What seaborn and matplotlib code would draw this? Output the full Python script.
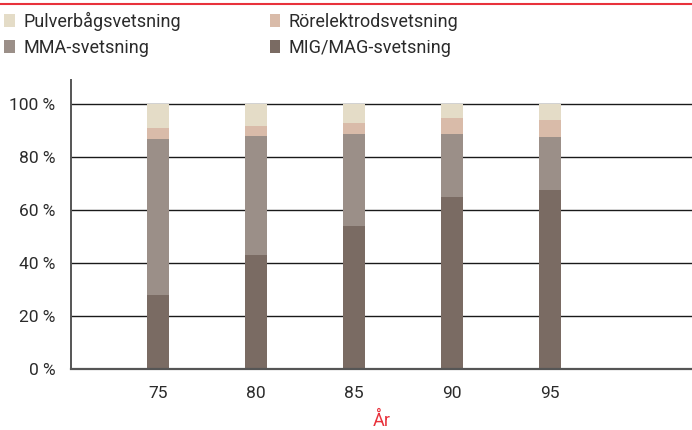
import numpy as np
import pandas as pd
import matplotlib
matplotlib.use("Agg")
import matplotlib.pyplot as plt
import seaborn as sns
from matplotlib.patches import Patch
from matplotlib.lines import Line2D

# data (andel i procent)
years = ["75", "80", "85", "90", "95"]
mig_mag = [28, 43, 54, 65, 67.5]
mma = [59, 45, 35, 24, 20]
rorelektrod = [4, 4, 4, 6, 6.5]
pulverbag = [9, 8, 7, 5, 6]

series_names = ["Pulverbågsvetsning", "MMA-svetsning", "Rörelektrodsvetsning", "MIG/MAG-svetsning"]
colors = {
    "Pulverbågsvetsning": "#e4dcc7",
    "Rörelektrodsvetsning": "#d9bba9",
    "MMA-svetsning": "#9b8f88",
    "MIG/MAG-svetsning": "#7a6b63",
}

sns.set_theme(style="white")
plt.rcParams["font.family"] = ["Roboto", "DejaVu Sans"]

df = pd.DataFrame({"year": years, "mig": mig_mag, "mma": mma, "ror": rorelektrod, "pulver": pulverbag})
df["c_mig"] = df["mig"]
df["c_mma"] = df["c_mig"] + df["mma"]
df["c_ror"] = df["c_mma"] + df["ror"]
df["c_pulver"] = df["c_ror"] + df["pulver"]

fig = plt.figure(figsize=(6.92, 4.30), dpi=100)
ax = fig.add_axes([0.102, 0.141, 0.898, 0.673])

# gridlines under the bars
for v in [20, 40, 60, 80, 100]:
    ax.axhline(v, color="#1a1a1a", lw=1.0, zorder=0)

# stacked bars: draw cumulative totals from the top down
layers = [("c_pulver", "Pulverbågsvetsning"), ("c_ror", "Rörelektrodsvetsning"),
          ("c_mma", "MMA-svetsning"), ("c_mig", "MIG/MAG-svetsning")]
for col, name in layers:
    sns.barplot(data=df, x="year", y=col, color=colors[name], width=0.227,
                saturation=1, ax=ax, zorder=2, linewidth=0)

ax.set_xlim(-0.89, 5.45)
ax.set_ylim(0, 109.2)
ax.set_yticks([0, 20, 40, 60, 80, 100])
ax.set_yticklabels([f"{v} %" for v in [0, 20, 40, 60, 80, 100]])
ax.tick_params(axis="both", length=0, labelsize=12.5, colors="#2b2b2b")
ax.tick_params(axis="y", pad=11)
ax.tick_params(axis="x", pad=12)
ax.set_xlabel("År", color="#e8323c", fontsize=13, labelpad=8)
ax.set_ylabel("")

for s in ["top", "right"]:
    ax.spines[s].set_visible(False)
ax.spines["left"].set_color("#555555")
ax.spines["left"].set_linewidth(1.4)
ax.spines["bottom"].set_color("#555555")
ax.spines["bottom"].set_linewidth(1.6)

# red rule at the top
fig.add_artist(Line2D([0, 1], [0.991, 0.991], color="#e8323c", lw=1.5, transform=fig.transFigure))

handles = [Patch(facecolor=colors[n], edgecolor="none", label=n) for n in series_names]
fig.legend(handles=handles, loc="upper left", bbox_to_anchor=(-0.004, 0.99), ncol=2,
           frameon=False, fontsize=13, handlelength=0.6, handleheight=0.75,
           handletextpad=0.45, columnspacing=4.9, labelspacing=0.45, borderaxespad=0.0,
           labelcolor="#2b2b2b")

fig.savefig("out.png", dpi=100)
